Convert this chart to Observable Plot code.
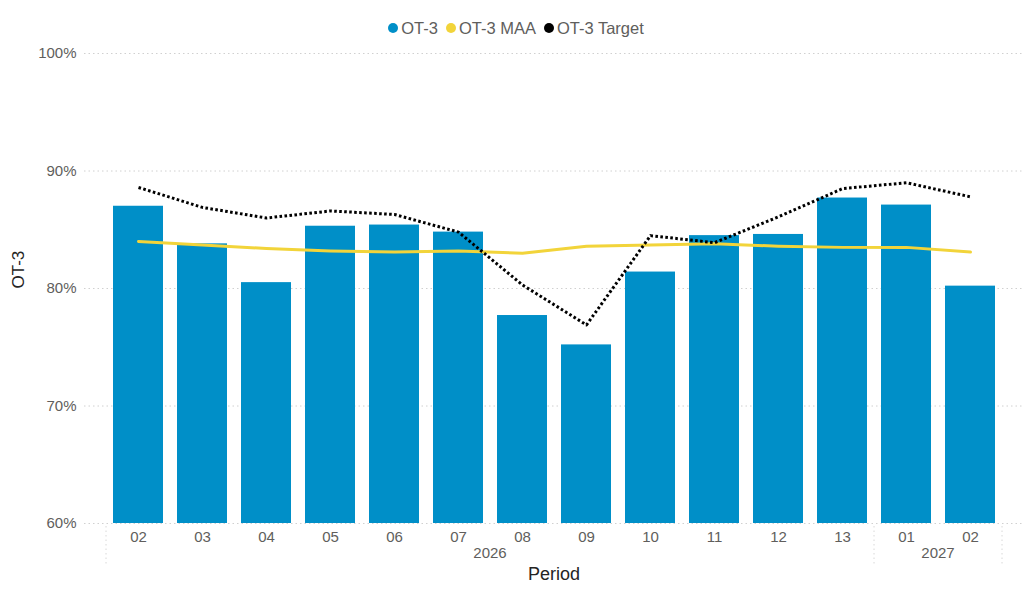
<!DOCTYPE html>
<html>
<head>
<meta charset="utf-8">
<script src="https://cdn.jsdelivr.net/npm/d3@7"></script>
<script src="https://cdn.jsdelivr.net/npm/@observablehq/plot@0.6"></script>
<style>
  html, body { margin: 0; padding: 0; background: #fff; }
  body { width: 1032px; height: 600px; overflow: hidden; font-family: "Liberation Sans", Arial, sans-serif; }
  #legend { height: 40px; box-sizing: border-box; padding-top: 16px; display: flex; justify-content: center; align-items: center; font-size: 16.5px; line-height: 20px; color: #605E5C; }
  #legend .item { display: flex; align-items: center; margin: 0 4px; }
  #legend .sw { width: 10px; height: 10px; border-radius: 50%; margin-right: 3px; }
  #chart svg { display: block; }
</style>
</head>
<body>
<div id="legend"></div>
<div id="chart"></div>
<script>
// Fiscal periods (month labels) and the year each belongs to
const periods = ["02", "03", "04", "05", "06", "07", "08", "09", "10", "11", "12", "13", "01", "02"];
const years   = ["2026", "2026", "2026", "2026", "2026", "2026", "2026", "2026", "2026", "2026", "2026", "2026", "2027", "2027"];

// Series values (fractions)
const ot3     = [0.870, 0.838, 0.805, 0.853, 0.854, 0.848, 0.777, 0.752, 0.814, 0.845, 0.846, 0.877, 0.871, 0.802];
const ot3Maa  = [0.840, 0.837, 0.834, 0.832, 0.831, 0.832, 0.830, 0.836, 0.837, 0.838, 0.836, 0.835, 0.835, 0.831];
const ot3Tgt  = [0.886, 0.869, 0.860, 0.866, 0.863, 0.848, 0.803, 0.769, 0.845, 0.839, 0.861, 0.885, 0.890, 0.878];

const yTicks = [0.6, 0.7, 0.8, 0.9, 1.0];

const seriesNames  = ["OT-3", "OT-3 MAA", "OT-3 Target"];
const seriesColors = ["#008FC8", "#F2D43A", "#000000"];

const rows = periods.map((p, i) => ({
  key: years[i] + "-" + p,
  period: p,
  year: years[i],
  ot3: ot3[i],
  maa: ot3Maa[i],
  target: ot3Tgt[i]
}));
const keys = rows.map(d => d.key);

// Legend
const legend = d3.select("#legend");
seriesNames.forEach((name, i) => {
  const item = legend.append("div").attr("class", "item");
  item.append("div").attr("class", "sw").style("background", seriesColors[i]);
  item.append("span").text(name);
});

// Year group labels and dotted separators under the period axis
function yearGroups(index, scales, values, dimensions) {
  const x = scales.x;
  const bw = typeof x.bandwidth === "function" ? x.bandwidth() : x.bandwidth;
  const step = x(keys[1]) - x(keys[0]);
  const center = k => x(k) + bw / 2;
  const base = dimensions.height - dimensions.marginBottom;
  const g = d3.create("svg:g")
    .attr("font-family", "Liberation Sans, Arial, sans-serif")
    .attr("font-size", 15)
    .attr("fill", "#605E5C");
  const groups = d3.groups(rows, d => d.year);
  const edges = new Set();
  groups.forEach(([year, rs]) => {
    const a = center(rs[0].key), b = center(rs[rs.length - 1].key);
    edges.add(a - step / 2);
    edges.add(b + step / 2);
    g.append("text")
      .attr("x", (a + b) / 2)
      .attr("y", base + 30)
      .attr("dy", "0.35em")
      .attr("text-anchor", "middle")
      .text(year);
  });
  for (const e of edges) {
    g.append("line")
      .attr("x1", e).attr("x2", e)
      .attr("y1", base + 3).attr("y2", base + 42)
      .attr("stroke", "#D8D8D8")
      .attr("stroke-dasharray", "1.5,3");
  }
  return g.node();
}

const chart = Plot.plot({
  width: 1032,
  height: 560,
  marginTop: 13,
  marginBottom: 77,
  marginLeft: 84,
  marginRight: 9,
  style: { fontFamily: "Liberation Sans, Arial, sans-serif", background: "#fff" },
  x: { type: "band", domain: keys, range: [105, 1002], paddingInner: 0.22, paddingOuter: 0.11 },
  y: { domain: [0.6, 1.0] },
  marks: [
    Plot.gridY(yTicks, { stroke: "#D0D0D0", strokeOpacity: 1, strokeDasharray: "1.5,3" }),
    Plot.barY(rows, { x: "key", y1: 0.6, y2: "ot3", fill: seriesColors[0] }),
    Plot.line(rows, { x: "key", y: "maa", stroke: seriesColors[1], strokeWidth: 3 }),
    Plot.line(rows, { x: "key", y: "target", stroke: seriesColors[2], strokeWidth: 3, strokeDasharray: "2.6,2.4", strokeLinecap: "butt" }),
    Plot.axisY(yTicks, { tickFormat: d3.format(".0%"), tickSize: 0, tickPadding: 8, fontSize: 15, color: "#605E5C", label: null }),
    Plot.axisX({ tickFormat: k => k.slice(5), tickSize: 0, tickPadding: 8, fontSize: 15, color: "#605E5C", label: null }),
    yearGroups,
    Plot.text(["OT-3"], { frameAnchor: "left", dx: -66, rotate: -90, fontSize: 17, fill: "#252423" }),
    Plot.text(["Period"], { frameAnchor: "bottom", dy: 56, fontSize: 18, fill: "#252423" })
  ]
});

document.getElementById("chart").appendChild(chart);
</script>
</body>
</html>
